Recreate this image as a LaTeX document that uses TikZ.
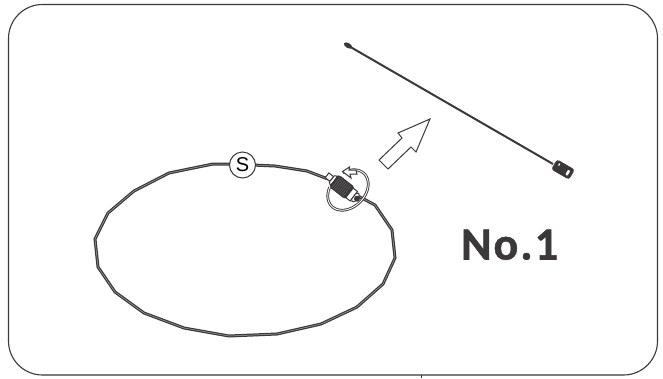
\documentclass[tikz,border=0pt]{standalone}
\usepackage{fontspec}
\newfontfamily\labelfont[LetterSpace=4.5,BoldFeatures={FakeBold=1.2}]{Carlito}
\newfontfamily\sfont{Liberation Sans}
\usetikzlibrary{shapes.geometric}
\definecolor{ink}{HTML}{3A3839}
\tikzset{
  wire/.style={draw=ink,line width=3pt,line join=miter,miter limit=3},
  wirecore/.style={draw=ink!45,line width=0.5pt},
  frame/.style={draw=ink,line width=1.1pt,rounded corners=34pt},
  whitepart/.style={draw=ink,fill=white,line width=1pt},
  darkpart/.style={draw=ink,fill=ink,line width=0.6pt},
  snode/.style={circle,draw=ink,fill=white,line width=1pt,minimum size=26pt,inner sep=0pt,font=\sfont\fontsize{20}{20}\selectfont},
  bigarrow/.style={draw=ink,fill=white,line width=1pt,line join=miter},
}
\begin{document}
\begin{tikzpicture}[x=1pt,y=-1pt]
\useasboundingbox (0,0) rectangle (663,378);
\fill[white] (0,0) rectangle (663,378);
\draw[frame] (8.5,4.5) rectangle (657.5,375);
\draw[ink,line width=0.8pt] (421,375) -- (421,378);

% ring wire
\def\ringpath{(252,164) -- (213,164) -- (169,173) -- (134,191) -- (108,213) -- (95,239) -- (98,267) -- (115,292) -- (144,313) -- (184,328) -- (229,336) -- (277,334) -- (321,324) -- (357,307) -- (383,284) -- (395,258) -- (392,230) -- (375,205) -- (358,196)}
\draw[wire] \ringpath;
\draw[wirecore] \ringpath;
\def\ringtop{(230,164) -- (275,166) -- (307,171) -- (328,179)}
\draw[wire] \ringtop;
\draw[wirecore] \ringtop;

% S marker
\node[snode] (S) at (242.5,165) {S};

% rotation ring
\begin{scope}[shift={(348,190)},rotate=45]
  \draw[ink,line width=2.7pt] plot[domain=292:602,samples=70,smooth] ({23*cos(\x)},{17*sin(\x)});
  \draw[white,line width=0.9pt] plot[domain=292:602,samples=70,smooth] ({23*cos(\x)},{17*sin(\x)});
\end{scope}
% connector on the ring
\begin{scope}[shift={(342,187)},rotate=-38]
  \draw[whitepart] (-19,-3) rectangle (-13,3);
  \draw[whitepart] (-13,-4) -- (-10,-6) -- (-10,6) -- (-13,4) -- cycle;
  \draw[darkpart,rounded corners=2.5pt] (-10,-7.5) rectangle (10,7.5);
  \foreach \k in {-7.5,-5.5,...,8}{\draw[ink!70,line width=0.3pt] (\k,-6.5) -- (\k,6.5);}
  \draw[whitepart] (9.5,-6) rectangle (15,6);
  \draw[whitepart,rounded corners=1.5pt] (15,-5) rectangle (19,5);
  \fill[ink] (19,0) circle (3);
\end{scope}
% small rotation arrowhead
\draw[whitepart,line join=miter] (342.5,171.5) -- (349.5,167) -- (349,170) -- (356,170) -- (357,174) -- (350,174) -- (351,178) -- cycle;

% big arrow
\draw[bigarrow] (430,119) -- (398,133) -- (402,138) -- (379,160) -- (388,169) -- (411,147) -- (416,152) -- cycle;

% antenna
\coordinate (antA) at (347,45);
\coordinate (antB) at (553,164);
\draw[ink,line width=2pt] (antA) -- (antB);
\node[ellipse,fill=ink,minimum width=9pt,minimum height=5pt,inner sep=0pt,rotate=-30] (tip) at (348,45.5) {};
\begin{scope}[shift={(563,169.5)},rotate=-30]
  \draw[darkpart,rounded corners=2.5pt] (-10,-5.5) rectangle (10,5.5);
  \fill[white,rounded corners=1pt] (-6.5,-3.8) rectangle (-5,-0.8);
  \fill[white,rounded corners=1pt] (4.5,-2.5) rectangle (7,3.4);
\end{scope}

\node[anchor=base west,inner sep=0pt,text=ink,font=\labelfont\bfseries\fontsize{46}{46}\selectfont] (lab) at (461,259.5) {No.1};
\end{tikzpicture}
\end{document}
